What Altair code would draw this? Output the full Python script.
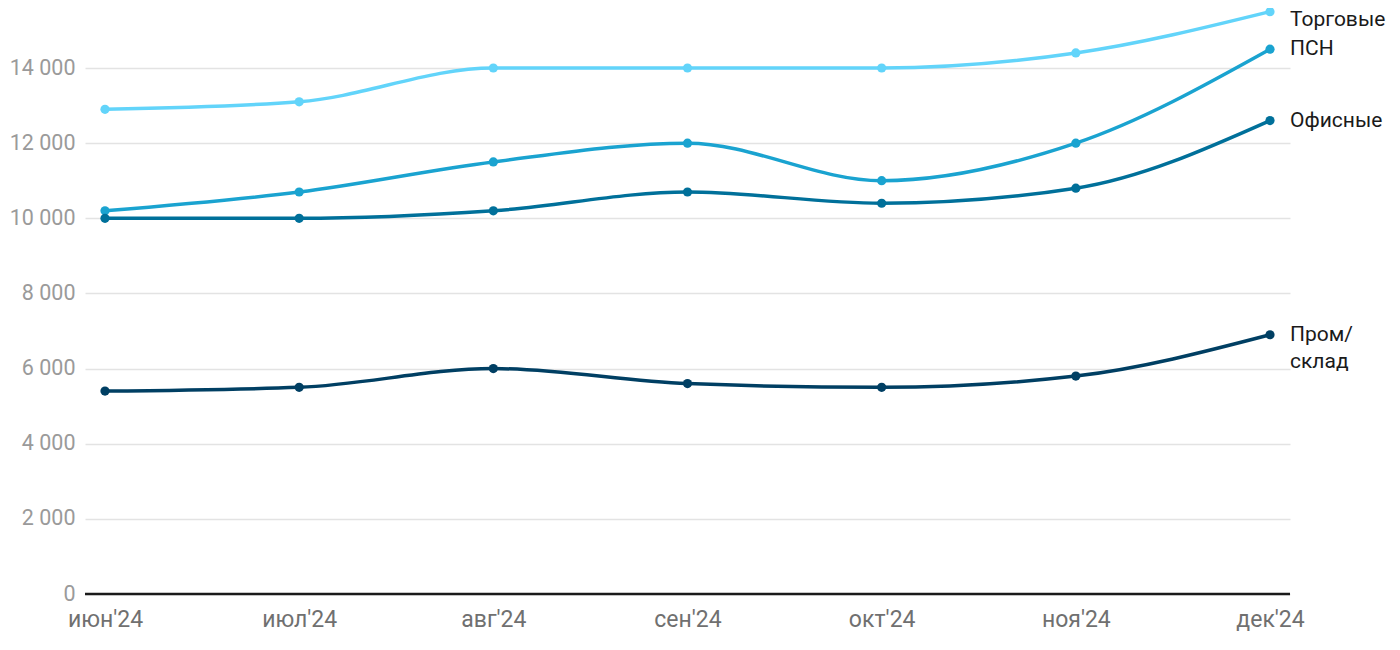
import altair as alt
import pandas as pd

months = ["июн'24", "июл'24", "авг'24", "сен'24", "окт'24", "ноя'24", "дек'24"]
series = ["Торговые", "ПСН", "Офисные", "Пром/склад"]
torg = [12900, 13100, 14000, 14000, 14000, 14400, 15500]
psn = [10200, 10700, 11500, 12000, 11000, 12000, 14500]
ofis = [10000, 10000, 10200, 10700, 10400, 10800, 12600]
prom = [5400, 5500, 6000, 5600, 5500, 5800, 6900]
colors = ["#62d4fa", "#1aa3d0", "#00709a", "#003f63"]
y_ticks = [0, 2000, 4000, 6000, 8000, 10000, 12000, 14000]
YMAX = 15597

rows = []
for s, vals in zip(series, [torg, psn, ofis, prom]):
    for m, v in zip(months, vals):
        rows.append({"series": s, "month": m, "value": v})
df = pd.DataFrame(rows)

labels = pd.DataFrame({
    "series": series[1:],
    "month": [months[-1]] * 3,
    "value": [psn[-1], ofis[-1], prom[-1]],
    "text": ["ПСН", "Офисные", "Пром/"],
})
labels_top = pd.DataFrame({"series": ["Торговые"], "month": [months[-1]],
                           "value": [torg[-1]], "text": ["Торговые"]})
labels2 = pd.DataFrame({"series": ["Пром/склад"], "month": [months[-1]],
                        "value": [prom[-1]], "text": ["склад"]})

FONT = "Roboto"
FS = 23
LFS = 21

x = alt.X("month:N", sort=months, title=None,
          scale=alt.Scale(type="point", padding=0.103),
          axis=alt.Axis(labelAngle=0, labelFontSize=FS, labelColor="#707070",
                        labelFont=FONT, ticks=False, domain=False,
                        labelPadding=14, grid=False))
y = alt.Y("value:Q", title=None,
          scale=alt.Scale(domain=[0, YMAX], nice=False, zero=True),
          axis=alt.Axis(values=y_ticks, labelFontSize=21.5, labelColor="#9a9a9a",
                        labelFont=FONT, ticks=False, domain=False,
                        labelPadding=10, grid=True, gridColor="#e3e3e3",
                        gridWidth=1.5,
                        labelExpr="datum.value >= 1000 ? floor(datum.value/1000) + ' 000' : datum.value"))
color = alt.Color("series:N", sort=series, legend=None,
                  scale=alt.Scale(domain=series, range=colors))

base = alt.Chart(df)
lines = base.mark_line(interpolate="monotone", strokeWidth=3.5).encode(x=x, y=y, color=color)
points = base.mark_point(filled=True, size=85, opacity=1).encode(x=x, y=y, color=color)

zero = alt.Chart(pd.DataFrame({"value": [0]})).mark_rule(color="#1a1a1a", strokeWidth=2.5).encode(
    y=alt.Y("value:Q", scale=alt.Scale(domain=[0, YMAX], nice=False)))

tx = alt.X("month:N", sort=months)
text1 = alt.Chart(labels).mark_text(align="left", baseline="middle", dx=20,
                                    fontSize=LFS, font=FONT, color="#1a1a1a").encode(
    x=tx, y="value:Q", text="text:N")
text_top = alt.Chart(labels_top).mark_text(align="left", baseline="middle", dx=20, dy=8,
                                           fontSize=LFS, font=FONT, color="#1a1a1a").encode(
    x=tx, y="value:Q", text="text:N")
text2 = alt.Chart(labels2).mark_text(align="left", baseline="middle", dx=20, dy=27,
                                     fontSize=LFS, font=FONT, color="#1a1a1a").encode(
    x=tx, y="value:Q", text="text:N")

chart = alt.layer(lines, zero, points, text1, text_top, text2).properties(
    width=1205, height=586,
    autosize=alt.AutoSizeParams(type="none"),
    padding={"left": 77, "top": 0, "right": 101, "bottom": 48},
).configure(background="white").configure_view(stroke=None)

chart.save("out.html", embed_options={"renderer": "svg", "actions": False})
